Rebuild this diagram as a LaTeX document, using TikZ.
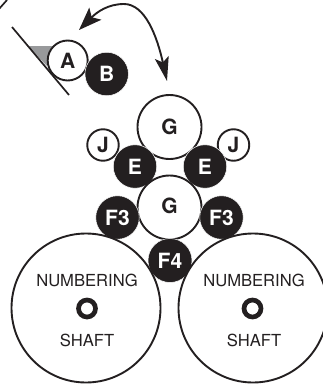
\documentclass[tikz,border=0pt]{standalone}
\usepackage{fontspec}
\setmainfont{TeX Gyre Heros}
\usetikzlibrary{arrows.meta}
\definecolor{ink}{HTML}{231F20}
\definecolor{wedge}{HTML}{98999B}
\tikzset{
  x=1pt,y=-1pt,
  tag/.style={font=\fontsize{21}{21}\selectfont\bfseries},
  roller/.style={circle,inner sep=0pt,minimum size=#1,draw=ink,line width=1.9pt,fill=white,text=ink,tag},
  darkroller/.style={circle,inner sep=0pt,minimum size=#1,fill=ink,draw=white,line width=0.5pt,text=white,tag},
  caption/.style={text=ink,font=\fontsize{16.6}{16.6}\selectfont,inner sep=0pt},
  hole/.style={circle,inner sep=0pt,minimum size=17pt,draw=ink,line width=4.7pt,fill=white},
  blade/.style={draw=ink,line width=1.7pt},
  swing/.style={draw=ink,line width=1.9pt,{Stealth[length=23pt,width=17pt,inset=5pt]}-{Stealth[length=24pt,width=14pt,inset=5pt]}}
}
\begin{document}
\begin{tikzpicture}
\useasboundingbox (0,0) rectangle (322,391);
\coordinate (bladetop) at (12,27);
\coordinate (bladeend) at (69,95);
\coordinate (edgeA) at (-1,9);
\coordinate (edgeB) at (7,0);
\coordinate (swingA) at (79,30);
\coordinate (swingB) at (167,81);
\fill[wedge] (28,46) -- (52,46) -- (47,66) -- cycle;
\draw[blade] (bladetop) -- (bladeend);
\draw[blade] (edgeA) -- (edgeB);
\node[roller=40pt] (A) at (67.7,60.5) {A};
\node[darkroller=43.5pt] (B) at (106.7,74) {B};
\draw[swing] (swingA) .. controls (97,12) and (108,4) .. (124,4) .. controls (145,4) and (157,36) .. (swingB);
\node[roller=64pt] (G1) at (169.5,127) {G};
\node[roller=31.5pt] (J1) at (103,145) {J};
\node[roller=31.5pt] (J2) at (233.5,145) {J};
\node[darkroller=43.5pt] (E1) at (135,166.5) {E};
\node[darkroller=43.5pt] (E2) at (205,166.5) {E};
\node[roller=64pt] (G2) at (169.5,207.5) {};
\node[text=ink,tag] (G2t) at (169.5,206) {G};
\node[darkroller=43.5pt] (F3a) at (117.5,217.5) {F3};
\node[darkroller=43.5pt] (F3b) at (221.5,217.5) {F3};
\node[darkroller=44pt] (F4) at (170,260.5) {F4};
\node[roller=149pt] (S1) at (86,308) {};
\node[roller=149pt] (S2) at (253,308) {};
\node[caption] (N1) at (87,280) {NUMBERING};
\node[caption] (N2) at (254,280) {NUMBERING};
\node[hole] (H1) at (87,308.5) {};
\node[hole] (H2) at (252.5,308.5) {};
\node[caption] (T1) at (87,340) {SHAFT};
\node[caption] (T2) at (254,340) {SHAFT};
\end{tikzpicture}
\end{document}
